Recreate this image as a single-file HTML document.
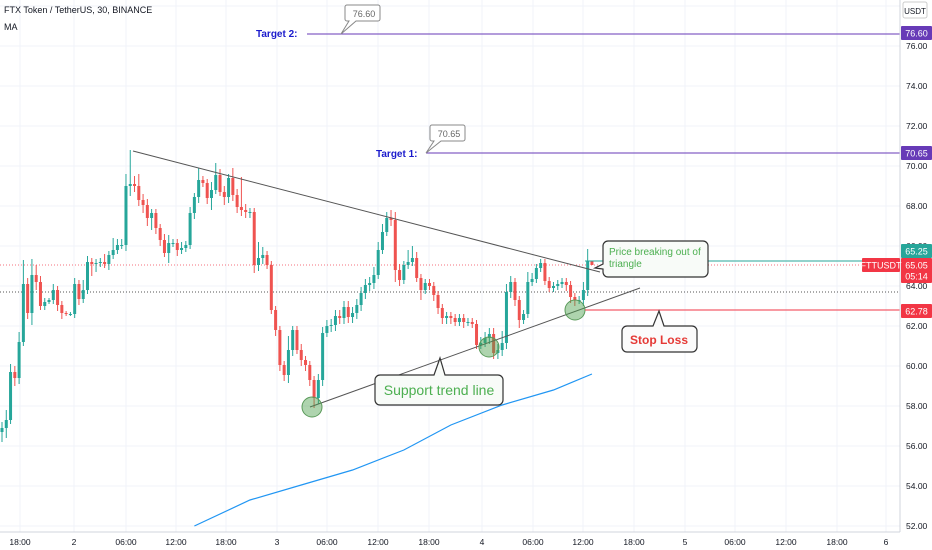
<!DOCTYPE html>
<html><head><meta charset="utf-8"><style>
html,body{margin:0;padding:0;background:#fff;}
svg{display:block;font-family:"Liberation Sans",sans-serif;}
</style></head><body>
<svg id="chart" width="932" height="550">
<g id="grid"></g>
<g id="overlays"></g>
<g id="candles"></g>
<g id="annot"></g>
<g id="axes"></g>
</svg>
<script>
const closes=[56.90,57.30,59.70,59.40,61.20,64.10,62.65,64.55,64.20,63.00,63.20,63.30,63.80,63.05,62.65,62.60,62.60,64.10,63.35,63.80,65.20,65.10,65.15,65.20,65.10,65.55,65.80,66.05,66.05,69.00,69.10,69.00,68.30,68.05,67.40,67.65,66.90,66.30,65.65,66.15,66.15,65.80,65.90,66.05,67.65,68.45,69.30,69.15,68.40,68.80,69.55,68.70,68.45,69.40,68.55,67.95,67.80,67.70,67.70,65.05,65.40,65.55,65.05,62.80,61.80,60.05,59.55,60.80,61.80,60.80,60.30,60.05,59.30,58.40,59.30,61.65,62.00,62.05,62.50,62.40,62.95,62.45,62.65,63.05,63.65,64.05,64.15,64.55,65.80,66.70,67.40,67.30,64.80,64.30,65.05,65.20,65.40,64.40,63.80,64.15,64.00,63.55,62.90,62.40,62.50,62.40,62.20,62.40,62.20,62.20,62.10,61.05,61.15,61.40,61.60,60.65,60.80,61.15,63.70,64.20,63.30,62.30,62.60,64.20,64.35,64.90,65.15,64.25,63.90,64.00,64.10,64.20,64.05,63.45,63.30,63.30,63.80,65.25,65.05];
const firstOpen=56.70;
const wickUp=[0.3,0.5,0.4,0.3,0.5,1.2,0.3,0.8,0.5,0.3,0.2,0.1,0.3,0.2,0.2,0.1,0.1,0.3,0.2,0.5,0.3,0.2,0.2,0.2,0.4,0.2,0.6,0.3,0.3,0.6,1.7,0.4,0.6,0.3,0.3,0.2,0.2,0.2,0.3,0.4,0.2,0.2,0.3,0.2,0.3,0.2,0.6,0.2,0.2,0.4,0.6,0.3,0.3,0.2,0.5,0.3,1.5,0.3,0.2,0.2,0.8,0.4,0.2,0.2,0.2,0.2,0.2,0.7,0.2,0.2,0.3,0.2,0.2,0.2,0.3,0.3,0.3,0.3,0.3,0.3,0.3,0.3,0.3,0.3,0.3,0.3,0.3,0.4,0.4,0.4,0.3,0.4,0.4,0.3,0.2,0.6,0.6,0.3,0.2,0.2,0.2,0.2,0.2,0.2,0.2,0.2,0.2,0.2,0.2,0.2,0.2,0.2,0.3,0.3,0.3,0.3,0.3,0.6,0.4,0.3,0.2,0.2,0.2,0.5,0.3,0.2,0.2,0.2,0.2,0.2,0.2,0.2,0.2,0.2,0.2,0.2,0.4,0.6];
const wickDn=[0.5,0.5,0.2,0.4,0.3,0.2,0.3,0.6,0.4,0.2,0.2,0.1,0.2,0.3,0.3,0.1,0.1,0.2,0.3,0.2,0.2,0.6,0.4,0.2,0.2,0.3,0.2,0.2,0.2,0.3,0.5,0.3,0.3,0.4,0.4,0.6,0.3,0.3,0.2,0.5,0.2,0.3,0.2,0.2,0.2,0.3,0.3,0.2,0.3,0.6,0.2,0.2,0.4,0.3,0.3,0.3,0.3,0.3,0.3,0.4,0.3,0.3,0.2,0.2,0.3,0.3,0.3,0.4,0.3,0.2,0.3,0.3,0.3,0.5,0.3,0.3,0.2,0.3,0.3,0.3,0.3,0.3,0.3,0.3,0.3,0.3,0.3,0.3,0.2,0.2,0.2,0.3,0.6,0.3,0.2,0.2,0.2,0.2,0.5,0.2,0.2,0.3,0.3,0.3,0.3,0.3,0.2,0.2,0.3,0.2,0.2,0.2,0.2,0.2,0.3,0.3,0.3,0.3,0.3,0.3,0.3,0.4,0.2,0.2,0.2,0.2,0.2,0.2,0.2,0.2,0.2,0.2,0.3,0.3,0.3,0.2,0.3,0.3];
const maIdx=[45,58,70,82,94,105,117,129,138];
const maValues=[52.0,53.3,54.05,54.8,55.8,57.05,58.05,58.8,59.6];
const priceTicks=[78,76,74,72,70,68,66,64,62,60,58,56,54,52];
const timeTicks=["18:00","2","06:00","12:00","18:00","3","06:00","12:00","18:00","4","06:00","12:00","18:00","5","06:00","12:00","18:00","6"];
const timeTickX=[20,74,126,176,226,277,327,378,429,482,533,583,634,685,735,786,837,886];

const NS="http://www.w3.org/2000/svg";
const y=p=>166-(p-70)*20;
const x=i=>2+i*4.275;
function mk(tag,attrs,parent,txt){const e=document.createElementNS(NS,tag);for(const k in attrs)e.setAttribute(k,attrs[k]);if(txt!==undefined)e.textContent=txt;parent.appendChild(e);return e;}
const G=document.getElementById('grid'),O=document.getElementById('overlays'),C=document.getElementById('candles'),A=document.getElementById('annot'),X=document.getElementById('axes');

priceTicks.forEach(p=>{const l=mk('line',{x1:0,x2:900,y1:y(p),y2:y(p),stroke:'#f0f3fa'},G);});
timeTickX.forEach(tx=>{const l=mk('line',{x1:tx,x2:tx,y1:0,y2:532,stroke:'#f0f3fa'},G);});

// MA
let pts=maIdx.map((k,j)=>x(k)+','+y(maValues[j])).join(' ');
const ma=mk('polyline',{points:pts,fill:'none',stroke:'#2196f3','stroke-width':1.2},O);


// dotted lines
mk('line',{x1:0,x2:900,y1:y(65.05),y2:y(65.05),stroke:'#f23645','stroke-dasharray':'1,2','stroke-width':1,opacity:0.7},O);
mk('line',{x1:0,x2:900,y1:292,y2:292,stroke:'#555','stroke-dasharray':'1,2','stroke-width':1},O);

// candles
closes.forEach((c,i)=>{
  const o=i===0?firstOpen:closes[i-1];
  const up=c>=o;const col=up?'#26a69a':'#ef5350';
  const hi=Math.max(o,c)+wickUp[i],lo=Math.min(o,c)-wickDn[i];
  const g=mk('g',{},C);
  
  
  mk('line',{x1:x(i),x2:x(i),y1:y(hi),y2:y(lo),stroke:col,'stroke-width':1},g);
  const t=Math.min(y(o),y(c)),h=Math.max(1,Math.abs(y(o)-y(c)));
  mk('rect',{x:x(i)-1.5,y:t,width:3,height:h,fill:col},g);
});
</script>
<svg width="0" height="0"></svg>
<script>
(function(){
const NS="http://www.w3.org/2000/svg";
const A=document.getElementById('annot'),X=document.getElementById('axes');
function mk(tag,attrs,parent,txt){const e=document.createElementNS(NS,tag);for(const k in attrs)e.setAttribute(k,attrs[k]);if(txt!==undefined)e.textContent=txt;parent.appendChild(e);return e;}
const y=p=>166-(p-70)*20;
// trend lines
mk('line',{x1:133,y1:151,x2:600,y2:272,stroke:'#555','stroke-width':1},A);
mk('line',{x1:310,y1:407,x2:640,y2:288,stroke:'#555','stroke-width':1},A);
[[312,407],[489,347],[575,310]].forEach(c=>{const e=mk('circle',{cx:c[0],cy:c[1],r:10,fill:'rgba(76,160,76,0.45)',stroke:'#5a9a5a','stroke-width':1},A);});
// targets
mk('line',{x1:307,x2:900,y1:y(76.6),y2:y(76.6),stroke:'#673ab7','stroke-width':1},A);
mk('line',{x1:426,x2:900,y1:y(70.65),y2:y(70.65),stroke:'#673ab7','stroke-width':1},A);
mk('text',{x:256,y:37,fill:'#1a1acc','font-size':10,'font-weight':'bold'},A,'Target 2:');
mk('text',{x:376,y:157,fill:'#1a1acc','font-size':10,'font-weight':'bold'},A,'Target 1:');
mk('path',{d:'M349,5 h29 a2,2 0 0 1 2,2 v12 a2,2 0 0 1 -2,2 h-22 l-15,13 l8,-13 h-2 a2,2 0 0 1 -2,-2 v-12 a2,2 0 0 1 2,-2z',fill:'#fff',stroke:'#888'},A);
mk('text',{x:364,y:17,fill:'#666','font-size':9,'text-anchor':'middle'},A,'76.60');
mk('path',{d:'M434,125 h29 a2,2 0 0 1 2,2 v12 a2,2 0 0 1 -2,2 h-22 l-15,12 l8,-12 h-2 a2,2 0 0 1 -2,-2 v-12 a2,2 0 0 1 2,-2z',fill:'#fff',stroke:'#888'},A);
mk('text',{x:449,y:137,fill:'#666','font-size':9,'text-anchor':'middle'},A,'70.65');
// breakout / stop lines
mk('line',{x1:585,x2:900,y1:261,y2:261,stroke:'#26a69a','stroke-width':1},A);
mk('line',{x1:585,x2:900,y1:310,y2:310,stroke:'#f23645','stroke-width':1},A);
// callouts
mk('path',{d:'M608,241 h95 a5,5 0 0 1 5,5 v26 a5,5 0 0 1 -5,5 h-95 a5,5 0 0 1 -5,-5 v-3 l-8,-1 l8,-4 v-18 a5,5 0 0 1 5,-5z',fill:'#f8fbf8',stroke:'#333','stroke-width':1.2},A);
mk('text',{x:609,y:255,fill:'#4caf50','font-size':10},A,'Price breaking out of');
mk('text',{x:609,y:267,fill:'#4caf50','font-size':10},A,'triangle');
mk('path',{d:'M627,326 h26 l6,-15 l5,15 h28 a5,5 0 0 1 5,5 v16 a5,5 0 0 1 -5,5 h-65 a5,5 0 0 1 -5,-5 v-16 a5,5 0 0 1 5,-5z',fill:'#fbfbfb',stroke:'#333','stroke-width':1.2},A);
mk('text',{x:659,y:344,fill:'#e53935','font-size':12,'font-weight':'bold','text-anchor':'middle'},A,'Stop Loss');
mk('path',{d:'M380,375 h54 l6,-17 l5,17 h53 a5,5 0 0 1 5,5 v20 a5,5 0 0 1 -5,5 h-118 a5,5 0 0 1 -5,-5 v-20 a5,5 0 0 1 5,-5z',fill:'#f8fbf8',stroke:'#333','stroke-width':1.2},A);
mk('text',{x:439,y:395,fill:'#4caf50','font-size':14,'text-anchor':'middle'},A,'Support trend line');
// legend
mk('text',{x:4,y:13,fill:'#131722','font-size':9},X,'FTX Token / TetherUS, 30, BINANCE');
mk('text',{x:4,y:30,fill:'#131722','font-size':9},X,'MA');
// right axis
mk('rect',{x:900,y:0,width:32,height:550,fill:'#fff'},X);
mk('line',{x1:900,x2:900,y1:0,y2:532,stroke:'#d1d4dc'},X);
mk('line',{x1:0,x2:900,y1:532,y2:532,stroke:'#d1d4dc'},X);
priceTicks.forEach(p=>{const t=mk('text',{x:906,y:y(p)+3,fill:'#131722','font-size':8.5},X,p.toFixed(2));});
timeTicks.forEach((s,k)=>{const t=mk('text',{x:timeTickX[k],y:545,fill:'#131722','font-size':8.5,'text-anchor':'middle'},X,s);});
mk('rect',{x:903,y:2,width:24,height:16,fill:'#fff',stroke:'#ccc',rx:2},X);
mk('text',{x:915,y:14,fill:'#131722','font-size':8,'text-anchor':'middle'},X,'USDT');
function tag(yc,txt,col,name,w,xs){const r=mk('rect',{x:xs||901,y:yc-7,width:w||31,height:14,fill:col,rx:1},X);mk('text',{x:(xs||901)+(w||31)/2,y:yc+3.5,fill:'#fff','font-size':9,'text-anchor':'middle'},X,txt);}
tag(33,'76.60','#673ab7','target-2-price-tag');
tag(153,'70.65','#673ab7','target-1-price-tag');
tag(251,'65.25','#26a69a','breakout-price-tag');
tag(265,'65.05','#f23645','last-price-tag');
tag(276,'05:14','#f23645','countdown-tag');
tag(265,'FTTUSDT','#f23645','symbol-tag',38,862);
tag(311,'62.78','#f23645','stop-loss-price-tag');
})();
</script>
</body></html>
